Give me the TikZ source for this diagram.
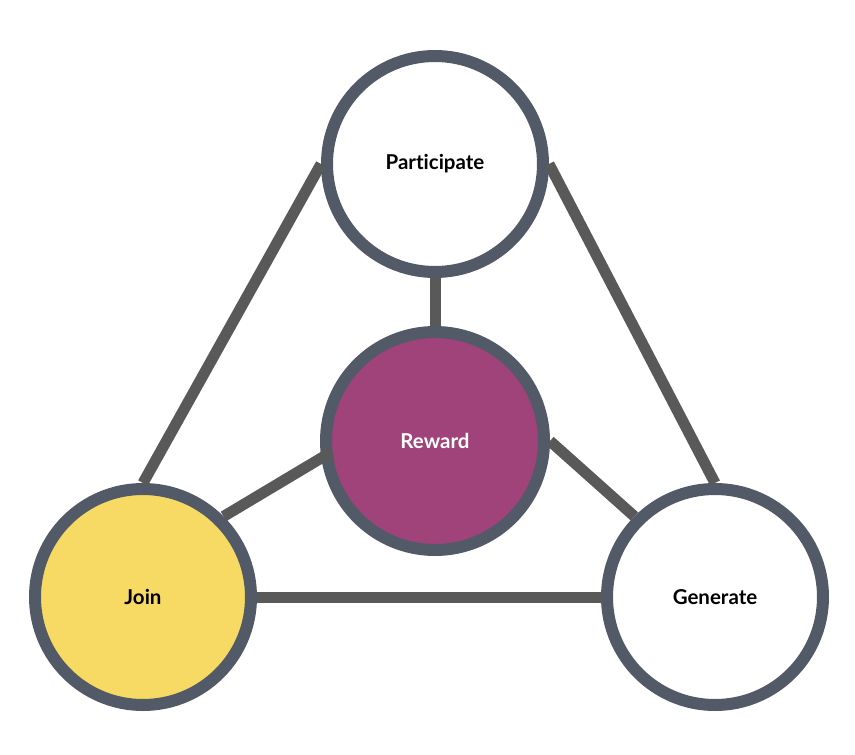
\documentclass[tikz,border=0pt]{standalone}
\usepackage{fontspec}
\setmainfont{Lato}[Ligatures={NoCommon}]
\usetikzlibrary{calc}
\definecolor{ringc}{HTML}{525A68}
\definecolor{linec}{HTML}{595959}
\definecolor{rewc}{HTML}{A0437A}
\definecolor{joinc}{HTML}{F7DA64}
\begin{document}
\begin{tikzpicture}[x=1pt,y=-1pt,
  ring/.style={circle,draw=ringc,line width=12pt,minimum size=216pt,inner sep=0pt,
    font=\fontsize{20.5}{24}\selectfont\bfseries},
  conn/.style={draw=linec,line width=11pt}]
\useasboundingbox (0,0) rectangle (855,755);
\fill[white] (0,0) rectangle (855,755);
\node[ring,fill=white] (par) at (435,164) {Participate};
\node[ring,fill=rewc,text=white,minimum size=218pt] (rew) at (435,441) {Reward};
\node[ring,fill=joinc] (join) at (143,597) {Join};
\node[ring,fill=white] (gen) at (715,597) {Generate};
\coordinate (rewin) at ($(rew.center)+(174:104)$);
\draw[conn] (par.west) -- (join.north);
\draw[conn] (par.east) -- (gen.north);
\draw[conn] (par.south) -- (rew.north);
\draw[conn] (join.east) -- (gen.west);
\draw[conn] (join.north east) -- (rewin);
\draw[conn] (rew.east) -- (gen.north west);
\end{tikzpicture}
\end{document}
